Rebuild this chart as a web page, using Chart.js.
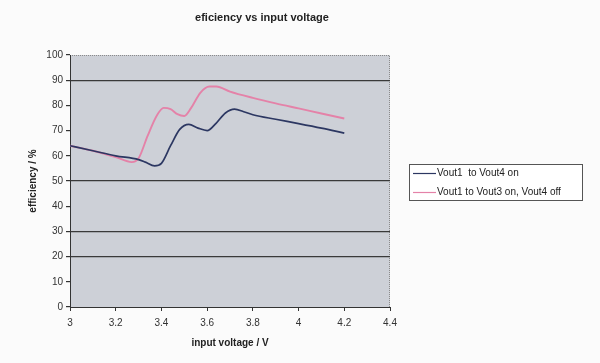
<!DOCTYPE html>
<html>
<head>
<meta charset="utf-8">
<script src="https://cdn.jsdelivr.net/npm/chart.js@4"></script>
<style>
  html, body { margin: 0; padding: 0; background: #fbfbfb; }
  #wrap { width: 600px; height: 363px; }
</style>
</head>
<body>
<div id="wrap"><canvas id="effChart" width="600" height="363"></canvas></div>
<script>
// input voltage (V) and efficiency (%)
const voltsAll = [3.0, 3.1, 3.2, 3.3, 3.33, 3.37, 3.4, 3.44, 3.48, 3.52, 3.56, 3.6, 3.64, 3.68, 3.72, 3.76, 3.8, 3.9, 4.0, 4.1, 4.2];
const effAll = [64, 62, 60, 58.5, 57.5, 56, 57, 64, 70.5, 72.5, 71, 70, 73, 77, 78.5, 77.5, 76.3, 74.5, 72.8, 71, 69];

const voltsOff = [3.0, 3.1, 3.2, 3.27, 3.3, 3.34, 3.38, 3.41, 3.44, 3.47, 3.5, 3.53, 3.57, 3.61, 3.64, 3.7, 3.8, 3.9, 4.0, 4.1, 4.2];
const effOff = [64, 62, 59.5, 57.5, 59, 68, 76, 79, 78.5, 76.5, 75.8, 79, 85, 87.5, 87.5, 85.5, 83, 80.8, 78.8, 76.8, 74.8];

const seriesNames = ['Vout1  to Vout4 on', 'Vout1 to Vout3 on, Vout4 off'];
const darkGrid = [90, 50, 30, 20];

const toPoints = (xs, ys) => xs.map((x, i) => ({ x: x, y: ys[i] }));

// plot background + dotted top/right frame
const plotBg = {
  id: 'plotBg',
  beforeDraw(chart) {
    const { ctx, chartArea: a } = chart;
    ctx.save();
    ctx.fillStyle = '#cdd0d7';
    ctx.fillRect(a.left, a.top, a.right - a.left, a.bottom - a.top);
    ctx.strokeStyle = '#8a8a8a';
    ctx.lineWidth = 1;
    ctx.setLineDash([1, 1]);
    ctx.beginPath();
    ctx.moveTo(a.left, a.top + 0.5);
    ctx.lineTo(a.right - 0.5, a.top + 0.5);
    ctx.lineTo(a.right - 0.5, a.bottom);
    ctx.stroke();
    ctx.restore();
  }
};

// title and boxed legend drawn to match the old spreadsheet look
const titleLegend = {
  id: 'titleLegend',
  afterDraw(chart) {
    const { ctx } = chart;
    ctx.save();
    ctx.fillStyle = '#222';
    ctx.font = 'bold 11px "Liberation Sans", Arial, sans-serif';
    ctx.textAlign = 'center';
    ctx.textBaseline = 'middle';
    ctx.fillText('eficiency vs input voltage', 262, 18);

    const bx = 409, by = 164, bw = 173, bh = 36;
    ctx.fillStyle = '#ffffff';
    ctx.fillRect(bx, by, bw, bh);
    ctx.strokeStyle = '#555';
    ctx.lineWidth = 1;
    ctx.strokeRect(bx + 0.5, by + 0.5, bw, bh);

    ctx.font = '10px "Liberation Sans", Arial, sans-serif';
    ctx.textAlign = 'left';
    chart.data.datasets.forEach((ds, i) => {
      const y = by + 9 + i * 19;
      ctx.strokeStyle = ds.borderColor;
      ctx.lineWidth = 1.2;
      ctx.beginPath();
      ctx.moveTo(bx + 4, y + 0.5);
      ctx.lineTo(bx + 27, y + 0.5);
      ctx.stroke();
      ctx.fillStyle = '#222';
      ctx.fillText(ds.label, bx + 28, y);
    });
    ctx.restore();
  }
};

new Chart(document.getElementById('effChart'), {
  type: 'line',
  data: {
    datasets: [
      {
        label: seriesNames[0],
        data: toPoints(voltsAll, effAll),
        borderColor: '#2c3762',
        borderWidth: 1.7,
        pointRadius: 0,
        cubicInterpolationMode: 'monotone'
      },
      {
        label: seriesNames[1],
        data: toPoints(voltsOff, effOff),
        borderColor: '#e482a8',
        borderWidth: 1.9,
        pointRadius: 0,
        cubicInterpolationMode: 'monotone'
      }
    ]
  },
  options: {
    responsive: false,
    animation: false,
    layout: { padding: { top: 55, right: 210, left: 0, bottom: 0 } },
    plugins: {
      legend: { display: false },
      title: { display: false },
      tooltip: { enabled: false }
    },
    scales: {
      x: {
        type: 'linear',
        min: 3,
        max: 4.4,
        afterFit: (s) => { s.height = 56; },
        ticks: {
          stepSize: 0.2,
          color: '#333',
          padding: 6,
          font: { family: '"Liberation Sans", Arial, sans-serif', size: 10 },
          callback: (v) => Number(v.toFixed(1)).toString()
        },
        grid: { drawOnChartArea: false, color: '#333', tickLength: 4 },
        border: { color: '#333', width: 1 },
        title: {
          display: true,
          text: 'input voltage / V',
          color: '#222',
          padding: { top: 4, bottom: 14 },
          font: { family: '"Liberation Sans", Arial, sans-serif', size: 10, weight: 'bold' }
        }
      },
      y: {
        min: 0,
        max: 100,
        afterFit: (s) => { s.width = 70; },
        ticks: {
          stepSize: 10,
          color: '#333',
          padding: 3,
          font: { family: '"Liberation Sans", Arial, sans-serif', size: 10 }
        },
        grid: {
          color: (c) => (c.tick && darkGrid.includes(c.tick.value)) ? '#3a3a3a' : 'rgba(0,0,0,0)',
          tickColor: '#333',
          tickLength: 4,
          lineWidth: 1.2
        },
        border: { color: '#333', width: 1 },
        title: {
          display: true,
          text: 'efficiency / %',
          color: '#222',
          padding: { top: 27 },
          font: { family: '"Liberation Sans", Arial, sans-serif', size: 10, weight: 'bold' }
        }
      }
    }
  },
  plugins: [plotBg, titleLegend]
});
</script>
</body>
</html>
